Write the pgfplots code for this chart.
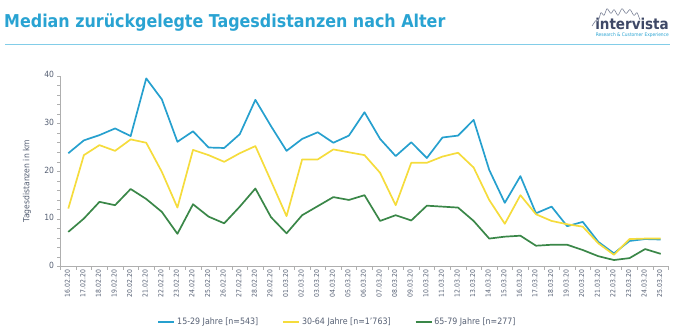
\documentclass[border=0pt]{standalone}
\usepackage{pgfplots}
\pgfplotsset{compat=1.18}
\usepackage{pgfplotstable}
\usepackage{fontspec}
\setmainfont{DejaVu Sans Condensed}
\definecolor{cblue}{RGB}{38,160,206}
\definecolor{cyellow}{RGB}{245,220,60}
\definecolor{cgreen}{RGB}{58,135,72}
\definecolor{ctitle}{RGB}{41,163,210}
\definecolor{cline}{RGB}{130,205,232}
\definecolor{ctick}{RGB}{85,95,115}
\definecolor{caxis}{RGB}{175,175,175}
\definecolor{clogo}{RGB}{62,72,102}
\pgfplotstableread{
x a b c
0 23.8 12.2 7.3
1 26.5 23.4 10.1
2 27.6 25.5 13.6
3 29.0 24.3 12.9
4 27.4 26.7 16.3
5 39.5 26.0 14.2
6 35.1 19.9 11.5
7 26.2 12.4 6.9
8 28.4 24.5 13.1
9 25.0 23.4 10.5
10 24.9 22.0 9.1
11 27.8 23.8 12.6
12 35.0 25.3 16.4
13 29.5 18.0 10.4
14 24.3 10.6 7.0
15 26.8 22.5 10.8
16 28.2 22.5 12.7
17 26.0 24.6 14.6
18 27.5 24.0 14.0
19 32.4 23.4 15.0
20 26.8 19.7 9.6
21 23.2 12.9 10.8
22 26.1 21.8 9.7
23 22.8 21.8 12.8
24 27.1 23.1 12.6
25 27.5 23.9 12.4
26 30.8 20.8 9.6
27 20.3 14.0 5.9
28 13.4 9.0 6.3
29 19.0 15.0 6.5
30 11.2 11.0 4.4
31 12.6 9.6 4.6
32 8.5 8.9 4.6
33 9.4 8.4 3.5
34 5.2 4.9 2.2
35 2.8 2.5 1.4
36 5.4 5.8 1.8
37 5.8 5.9 3.7
38 5.7 5.9 2.7
}\data
\begin{document}
\begin{tikzpicture}
\path[use as bounding box] (0,0) rectangle (687bp,334bp);
% title
\node[anchor=base west, inner sep=0pt, font=\fontsize{17.7bp}{19bp}\selectfont\bfseries, text=ctitle] at (4bp,306bp) {Median zurückgelegte Tagesdistanzen nach Alter};
\draw[cline, line width=0.8bp] (5bp,290bp) -- (670bp,290bp);
% logo
\node[anchor=base east, inner sep=0pt, font=\fontsize{15bp}{16bp}\selectfont\bfseries, text=clogo] at (669bp,304bp) {intervista};
\node[anchor=base east, inner sep=0pt, text=ctitle] at (669bp,297bp) {\resizebox{73bp}{!}{\fontsize{5bp}{6bp}\selectfont Research \& Customer Experience}};
\draw[clogo!70, line width=0.6bp, rounded corners=1bp] (592bp,308bp) -- (596bp,314bp) -- (598bp,312bp) -- (601bp,322bp) -- (604bp,318bp) -- (607bp,326bp) -- (611bp,320bp) -- (614bp,325bp) -- (618bp,318bp) -- (622bp,326bp) -- (626bp,320bp) -- (630bp,325bp) -- (634bp,318bp) -- (637bp,322bp) -- (640bp,314bp);
\begin{axis}[
  at={(60.5bp,67.3bp)}, anchor=south west,
  scale only axis, width=608bp, height=190.7bp,
  xmin=-0.5, xmax=38.5, ymin=0, ymax=40,
  axis x line=bottom, axis y line=left,
  axis line style={-, caxis, line width=0.6bp},
  xtick={0,...,38},
  xticklabels={16.02.20,17.02.20,18.02.20,19.02.20,20.02.20,21.02.20,22.02.20,23.02.20,24.02.20,25.02.20,26.02.20,27.02.20,28.02.20,29.02.20,01.03.20,02.03.20,03.03.20,04.03.20,05.03.20,06.03.20,07.03.20,08.03.20,09.03.20,10.03.20,11.03.20,12.03.20,13.03.20,14.03.20,15.03.20,16.03.20,17.03.20,18.03.20,19.03.20,20.03.20,21.03.20,22.03.20,23.03.20,24.03.20,25.03.20},
  major x tick style={draw=none},
  minor xtick={-0.5,0.5,...,38.5},
  minor x tick style={caxis, line width=0.5bp},
  xticklabel style={rotate=90, anchor=east, font=\fontsize{6.8bp}{7bp}\selectfont, text=ctick, inner sep=0pt, xshift=0bp},
  xtick pos=bottom,
  tick align=outside,
  major tick length=3bp, minor tick length=3bp,
  ytick={0,10,20,30,40},
  minor y tick num=4,
  y tick style={caxis, line width=0.5bp},
  yticklabel style={font=\fontsize{8.5bp}{9bp}\selectfont, text=ctick},
  typeset ticklabels with strut,
  /pgf/number format/assume math mode=true,
  ylabel={Tagesdistanzen in km},
  ylabel style={font=\fontsize{8.5bp}{9bp}\selectfont, text=ctick, at={(axis description cs:-0.055,0.45)}, anchor=center, rotate=0},
  legend style={draw=none, fill=none, at={(axis description cs:0.4556,-0.29)}, anchor=center, font=\fontsize{8.8bp}{9bp}\selectfont, text=ctick, /tikz/every even column/.append style={column sep=22bp}},
  legend columns=3,
  legend image code/.code={\draw[#1] (0bp,0bp) -- (16bp,0bp);},
  every axis plot/.append style={line width=1.7bp, line join=round},
  clip=false,
]
\addplot[cblue] table[x=x, y=a] {\data};
\addlegendentry{15-29 Jahre [n=543]}
\addplot[cyellow] table[x=x, y=b] {\data};
\addlegendentry{30-64 Jahre [n=1'763]}
\addplot[cgreen] table[x=x, y=c] {\data};
\addlegendentry{65-79 Jahre [n=277]}
\end{axis}
\end{tikzpicture}
\end{document}
